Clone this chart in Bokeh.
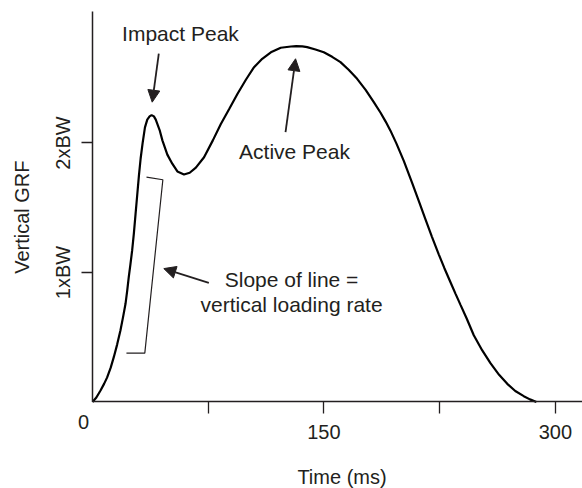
import math
from bokeh.plotting import figure
from bokeh.models import Range1d, FixedTicker, Label, Arrow, NormalHead
from bokeh.embed import file_html
from bokeh.resources import INLINE

# Vertical ground reaction force curve
time_ms = [0, 2.5, 5.2, 7.5, 9.5, 11.8, 13.8, 16, 18.1, 19.8, 21.4, 22.5, 23.5, 24.6, 25.7,
           26.8, 27.9, 29, 30.1, 31.2, 32.5, 34, 35.5, 37, 38.3, 39.8, 41, 43.5, 45.3,
           48.5, 51.7, 55, 59.3, 63, 67, 72.3, 78, 83.1, 88.5, 94, 99.5, 104.7, 110,
           115.6, 122, 128.6, 132, 136, 139.1, 144.5, 149.9, 155.3, 160.7, 166, 171.5,
           177, 182.3, 186.6, 190, 193.1, 197, 201.8, 207.2, 211.5, 215.8, 220, 224.4,
           228, 232, 235.3, 238.5, 242.5, 247.1, 252.5, 257.9, 263.5, 268.8, 274,
           279.5, 283.5, 287.7]
grf_bw = [0, 0.035, 0.089, 0.14, 0.19, 0.265, 0.346, 0.445, 0.552, 0.655, 0.758, 0.86, 0.964,
          1.065, 1.17, 1.3, 1.45, 1.6, 1.75, 1.88, 2.0, 2.12, 2.18, 2.205, 2.215, 2.205, 2.18,
          2.1, 2.02, 1.91, 1.84, 1.78, 1.757, 1.77, 1.81, 1.89, 2.02, 2.145, 2.26, 2.38, 2.49,
          2.585, 2.65, 2.7, 2.735, 2.745, 2.748, 2.746, 2.74, 2.722, 2.7, 2.665, 2.624, 2.565,
          2.495, 2.41, 2.316, 2.235, 2.165, 2.095, 1.995, 1.86, 1.69, 1.55, 1.41, 1.275, 1.14,
          1.035, 0.925, 0.835, 0.75, 0.645, 0.515, 0.4, 0.3, 0.21, 0.14, 0.085, 0.045, 0.02, 0.0]

# loading-rate bracket
bracket_x = [35.0, 45.6, 33.9, 22.0]
bracket_y = [1.736, 1.716, 0.377, 0.377]

x_ticks = [75, 150, 225, 300]
x_tick_labels = {75: "", 150: "150", 225: "", 300: "300"}
y_ticks = [1, 2]
y_tick_labels = {1: "1xBW", 2: "2xBW"}

INK = "#231f20"
FONT = "Liberation Sans"
FS_AX = "20px"
FS_TX = "21px"

p = figure(width=582, height=488, output_backend="svg", toolbar_location=None,
           x_range=Range1d(-59.62, 317.56), y_range=Range1d(-0.668, 3.100),
           min_border=0, min_border_left=0, min_border_right=0,
           min_border_top=0, min_border_bottom=0)
p.outline_line_color = None
p.grid.visible = False
p.background_fill_color = "white"
p.border_fill_color = "white"

for ax in (p.xaxis[0], p.yaxis[0]):
    ax.fixed_location = 0
    ax.axis_line_color = INK
    ax.axis_line_width = 1.5
    ax.major_tick_line_color = INK
    ax.major_tick_line_width = 1.3
    ax.minor_tick_line_color = None
    ax.major_tick_in = 0
    ax.major_label_text_font = FONT
    ax.major_label_text_font_size = FS_AX
    ax.major_label_text_color = INK

p.xaxis[0].bounds = (0, 317.56)
p.xaxis[0].ticker = FixedTicker(ticks=x_ticks)
p.xaxis[0].major_label_overrides = x_tick_labels
p.xaxis[0].major_tick_out = 12
p.xaxis[0].major_label_standoff = 11

p.yaxis[0].bounds = (0, 3.018)
p.yaxis[0].ticker = FixedTicker(ticks=y_ticks)
p.yaxis[0].major_label_overrides = y_tick_labels
p.yaxis[0].major_tick_out = 11
p.yaxis[0].major_label_orientation = "vertical"
p.yaxis[0].major_label_standoff = 7

p.line(time_ms, grf_bw, line_color="black", line_width=2.2)
p.line(bracket_x, bracket_y, line_color=INK, line_width=1.2)

def arrow(xs, ys, xe, ye):
    p.add_layout(Arrow(end=NormalHead(size=12, fill_color=INK, line_color=INK, line_width=1),
                       x_start=xs, y_start=ys, x_end=xe, y_end=ye,
                       line_color=INK, line_width=1.8))

arrow(42.97, 2.69, 38.7, 2.315)      # impact peak
arrow(125.1, 2.083, 131.6, 2.65)     # active peak
arrow(75.4, 0.92, 46.2, 1.03)        # slope

def label(x, y, t, fs=FS_TX, angle=0.0, xo=0, yo=7):
    p.add_layout(Label(x=x, y=y, text=t, text_font=FONT, text_font_size=fs,
                       text_color=INK, text_align="center", text_baseline="alphabetic",
                       angle=angle, x_offset=xo, y_offset=yo))

label(57.0, 2.79, "Impact Peak")
label(130.9, 1.878, "Active Peak")
label(129.0, 0.892, "Slope of line =")
label(129.0, 0.699, "vertical loading rate")
label(0, 0, "0", fs=FS_AX, xo=-9, yo=-20)
label(161.7, -0.63, "Time (ms)", fs=FS_AX)
label(-41.3, 1.427, "Vertical GRF", fs=FS_AX, angle=math.pi / 2, xo=-7, yo=0)

open("out.html", "w").write(file_html(p, INLINE))
